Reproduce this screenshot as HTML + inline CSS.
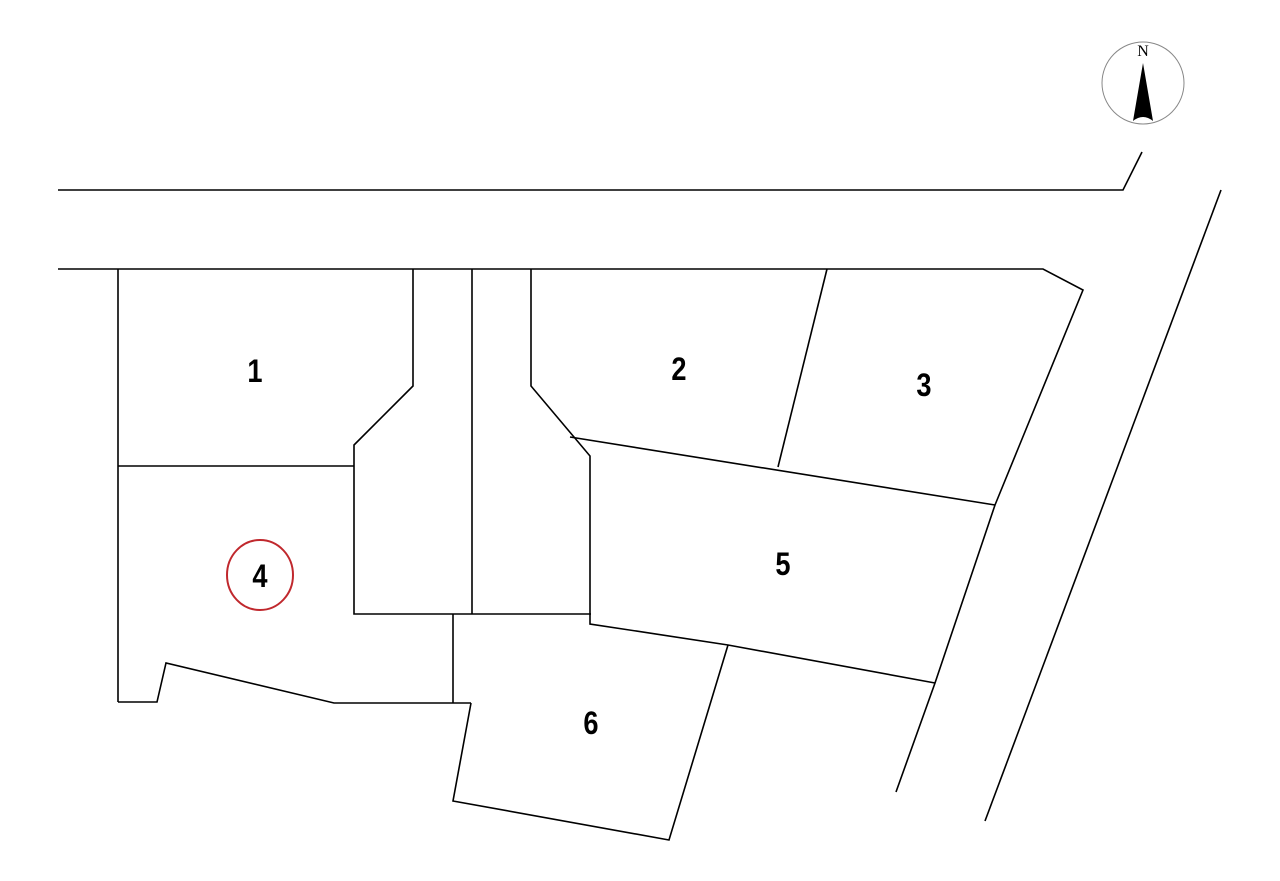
<!DOCTYPE html>
<html><head><style>html,body{margin:0;padding:0;background:#fff;}svg{display:block}</style></head>
<body>
<svg width="1280" height="881" viewBox="0 0 1280 881" xmlns="http://www.w3.org/2000/svg">
<g fill="none" stroke="#000" stroke-width="1.6" stroke-linejoin="miter">
<polyline points="58,190 1123,190 1142,152"/>
<polyline points="58,269 1043,269 1083,290 995,505 935,683 896,792"/>
<line x1="1221" y1="190" x2="985" y2="821"/>
<line x1="118" y1="269" x2="118" y2="702"/>
<line x1="118" y1="466" x2="354" y2="466"/>
<polyline points="413,269 413,386 354,445 354,614 591,614"/>
<line x1="472" y1="269" x2="472" y2="614"/>
<polyline points="531,269 531,386 590,456 590,624 728,645 935,683"/>
<line x1="570" y1="437" x2="995" y2="505"/>
<line x1="827" y1="269" x2="778" y2="467"/>
<polyline points="728,645 669,840 453,801 471,703"/>
<polyline points="118,702 157,702 166,663 334,703 471,703"/>
<line x1="453" y1="614" x2="453" y2="703"/>
</g>
<circle cx="1143" cy="83" r="41" fill="none" stroke="#888" stroke-width="1"/>
<text x="1143" y="56" font-family="Liberation Serif, serif" font-size="16" text-anchor="middle">N</text>
<path d="M1143,63 L1133,121 Q1143,113 1153,121 Z" fill="#000"/>
<g font-family="Liberation Sans, sans-serif" font-weight="bold" font-size="32" text-anchor="middle">
<text x="255" y="382" transform="translate(255 0) scale(0.85 1) translate(-255 0)">1</text>
<text x="679" y="380" transform="translate(679 0) scale(0.85 1) translate(-679 0)">2</text>
<text x="924" y="396" transform="translate(924 0) scale(0.85 1) translate(-924 0)">3</text>
<text x="260" y="587" transform="translate(260 0) scale(0.85 1) translate(-260 0)">4</text>
<text x="783" y="575" transform="translate(783 0) scale(0.85 1) translate(-783 0)">5</text>
<text x="591" y="734" transform="translate(591 0) scale(0.85 1) translate(-591 0)">6</text>
</g>
<ellipse cx="260" cy="575" rx="33" ry="35" fill="none" stroke="#c0282d" stroke-width="2"/>
</svg>
</body></html>
